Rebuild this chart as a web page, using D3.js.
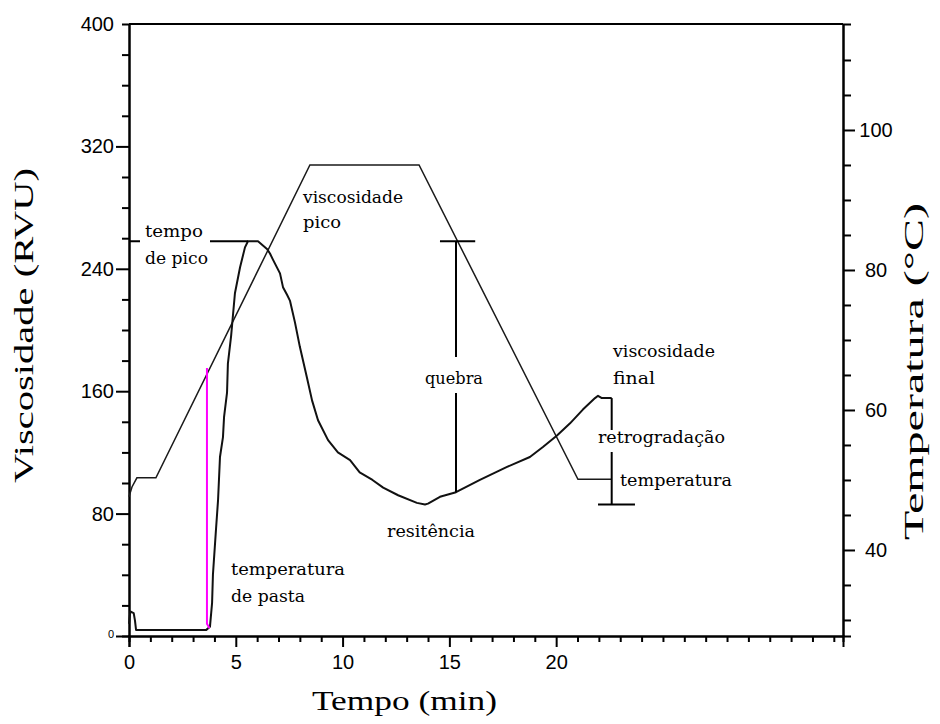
<!DOCTYPE html>
<html>
<head>
<meta charset="utf-8">
<script src="https://cdn.jsdelivr.net/npm/d3@7/dist/d3.min.js"></script>
<style>
  body { margin: 0; background: #fff; }
  svg { display: block; }
</style>
</head>
<body>
<svg id="chart" width="940" height="724"></svg>
<script>
// ---- Data -------------------------------------------------------------
// Tick labels
const timeTicks = [0, 5, 10, 15, 20];
const viscTicks = [0, 80, 160, 240, 320, 400];
const tempTicks = [40, 60, 80, 100];

// Viscosity curve: time (min) and viscosity (RVU)
const viscTime  = [0, 0.06, 0.22, 0.28, 0.33, 3.62, 3.79, 3.89, 3.93, 4.07, 4.17, 4.26, 4.40, 4.45,
                   4.59, 4.63, 4.78, 4.96, 5.20, 5.43, 5.57, 6.04, 6.46, 6.60, 6.74, 7.07, 7.21, 7.40,
                   7.54, 7.77, 8.00, 8.33, 8.57, 8.85, 9.32, 9.78, 10.35, 10.80, 11.40, 11.90, 12.60,
                   13.48, 13.86, 14.00, 14.56, 15.31, 16.43, 17.70, 18.77, 19.38, 20.04, 20.65, 21.25,
                   21.82, 21.96, 22.14, 22.60];
const viscValue = [8, 16, 15, 10, 4, 4, 6, 21.6, 40, 69, 89, 117, 130, 143,
                   159, 178, 196, 224, 241, 254, 258, 258, 253, 250, 246, 237, 228, 223,
                   219, 205, 189, 169, 154, 141, 128, 120, 115, 107, 102, 97, 92,
                   87, 86, 86.5, 91, 94, 102, 110.5, 117, 123.5, 131, 139, 148,
                   155.5, 157, 155.5, 155.5];

// Temperature profile: time (min) and temperature (°C)
const tempTime  = [0, 0.14, 0.37, 1.26, 8.47, 13.58, 21.02, 22.60];
const tempValue = [47.6, 49.0, 50.3, 50.3, 95, 95, 50.1, 50.1];

// Characteristic points of the pasting profile
const peakViscosity   = 258;    // RVU
const peakTime        = 5.57;   // min, start of the peak plateau
const troughViscosity = 86;     // RVU (resistência)
const breakdownTime   = 15.31;  // min, where "quebra" is measured
const breakdownBottom = 94;     // RVU on the curve at breakdownTime
const finalViscosity  = 155.5;  // RVU
const finalTime       = 22.60;  // min
const pastingTime     = 3.65;   // min
const pastingTemp     = 66;     // °C
const pastingVisc     = 5;      // RVU at the onset

// ---- Scales -----------------------------------------------------------
const svg = d3.select("#chart");
const x  = d3.scaleLinear().domain([0, 33.43]).range([129, 843]);
const yV = d3.scaleLinear().domain([0, 400]).range([636, 24]);
const yT = d3.scaleLinear().domain([27.71, 115.14]).range([636, 24]);

const tickFont = "'Liberation Sans', Arial, sans-serif";
const serif = "'Liberation Serif', 'Times New Roman', serif";
const noteFont = "'DejaVu Serif', serif";

// ---- Axes -------------------------------------------------------------
function styleAxis(g) {
  g.selectAll("path, line").attr("stroke", "#000").attr("stroke-width", 2);
  g.selectAll("text").attr("fill", "#000").style("font-family", tickFont).style("font-size", "20px");
}

// minor ticks
const timeMinor = d3.range(1, 34).filter(v => !(v % 5 === 0 && v <= 20));
const viscMinor = d3.range(20, 400, 20).filter(v => v % 80 !== 0);
const tempMinor = d3.range(30, 115, 5).filter(v => v % 20 !== 0);

svg.append("g").attr("transform", "translate(0,636)")
  .call(d3.axisBottom(x).tickValues(timeMinor).tickSize(6).tickFormat(""))
  .call(styleAxis);
svg.append("g").attr("transform", "translate(0,636)")
  .call(d3.axisBottom(x).tickValues(timeTicks).tickSize(11).tickSizeOuter(11).tickPadding(8))
  .call(styleAxis);

svg.append("g").attr("transform", "translate(129,0)")
  .call(d3.axisLeft(yV).tickValues(viscMinor).tickSize(7).tickFormat(""))
  .call(styleAxis);
const leftAxis = svg.append("g").attr("transform", "translate(129,0)")
  .call(d3.axisLeft(yV).tickValues(viscTicks).tickSize(13).tickSizeOuter(0).tickPadding(2))
  .call(styleAxis);
leftAxis.selectAll(".tick").filter(d => d === 400).select("line").remove();
leftAxis.selectAll(".tick").filter(d => d === 0).select("text")
  .style("font-size", "11px").attr("dy", "0.1em");

svg.append("g").attr("transform", "translate(843,0)")
  .call(d3.axisRight(yT).tickValues(tempMinor).tickSize(8).tickFormat(""))
  .call(styleAxis);
svg.append("g").attr("transform", "translate(843,0)")
  .call(d3.axisRight(yT).tickValues(tempTicks).tickSize(12).tickSizeOuter(0))
  .call(styleAxis)
  .selectAll("text").attr("text-anchor", "middle").attr("x", 33);

// top frame line
svg.append("line")
  .attr("x1", x(0)).attr("x2", x.range()[1])
  .attr("y1", yV(400)).attr("y2", yV(400))
  .attr("stroke", "#000").attr("stroke-width", 2);

// ---- Axis titles ------------------------------------------------------
svg.append("text")
  .attr("transform", "translate(33,325.5) rotate(-90)")
  .attr("text-anchor", "middle")
  .attr("textLength", 315).attr("lengthAdjust", "spacingAndGlyphs")
  .style("font-family", serif).style("font-size", "27px")
  .text("Viscosidade (RVU)");
svg.append("text")
  .attr("x", 404.5).attr("y", 710)
  .attr("text-anchor", "middle")
  .attr("textLength", 185).attr("lengthAdjust", "spacingAndGlyphs")
  .style("font-family", serif).style("font-size", "27px")
  .text("Tempo (min)");
svg.append("text")
  .attr("transform", "translate(923,371.5) rotate(-90)")
  .attr("text-anchor", "middle")
  .attr("textLength", 337).attr("lengthAdjust", "spacingAndGlyphs")
  .style("font-family", serif).style("font-size", "27px")
  .text("Temperatura (°C)");

// ---- Curves -----------------------------------------------------------
const viscData = viscTime.map((t, i) => [t, viscValue[i]]);
const tempData = tempTime.map((t, i) => [t, tempValue[i]]);

svg.append("path")
  .datum(tempData)
  .attr("fill", "none").attr("stroke", "#1a1a1a").attr("stroke-width", 1.5)
  .attr("d", d3.line().x(d => x(d[0])).y(d => yT(d[1])));

svg.append("path")
  .datum(viscData)
  .attr("fill", "none").attr("stroke", "#111").attr("stroke-width", 2)
  .attr("stroke-linejoin", "round")
  .attr("d", d3.line().x(d => x(d[0])).y(d => yV(d[1])));

// pasting temperature marker
svg.append("path")
  .attr("fill", "none").attr("stroke", "#ff00ff").attr("stroke-width", 2)
  .attr("d", d3.line()([
    [x(pastingTime), yT(pastingTemp)],
    [x(pastingTime), yV(pastingVisc + 3)],
    [x(pastingTime + 0.12), yV(pastingVisc)]
  ]));

// ---- Annotation lines -------------------------------------------------
const ann = svg.append("g").attr("stroke", "#000").attr("stroke-width", 2).attr("fill", "none");

// peak time: horizontal line from the axis to the peak
ann.append("line")
  .attr("x1", x(0)).attr("x2", x(peakTime))
  .attr("y1", yV(peakViscosity)).attr("y2", yV(peakViscosity));

// breakdown: vertical from peak level down to the curve
ann.append("line")
  .attr("x1", x(breakdownTime)).attr("x2", x(breakdownTime))
  .attr("y1", yV(peakViscosity)).attr("y2", yV(breakdownBottom));
ann.append("line")
  .attr("x1", x(breakdownTime - 0.75)).attr("x2", x(breakdownTime + 0.9))
  .attr("y1", yV(peakViscosity)).attr("y2", yV(peakViscosity));

// setback bracket: final viscosity down to trough level
ann.append("line")
  .attr("x1", x(finalTime)).attr("x2", x(finalTime))
  .attr("y1", yV(finalViscosity)).attr("y2", yV(troughViscosity));
ann.append("line")
  .attr("x1", x(finalTime - 0.64)).attr("x2", x(finalTime + 1.09))
  .attr("y1", yV(troughViscosity)).attr("y2", yV(troughViscosity));

// ---- Annotation labels ------------------------------------------------
const masks = [
  [140, 221, 70, 47],    // tempo de pico
  [418, 357, 72, 36],    // quebra
  [595, 430, 134, 22]    // retrogradação
];
svg.append("g").selectAll("rect").data(masks).join("rect")
  .attr("x", d => d[0]).attr("y", d => d[1])
  .attr("width", d => d[2]).attr("height", d => d[3])
  .attr("fill", "#fff");

const notes = [
  ["tempo", 145, 237, 58],
  ["de pico", 145, 264, 63],
  ["viscosidade", 303, 203, 100],
  ["pico", 303, 228, 38],
  ["quebra", 425, 384, 58],
  ["resitência", 387, 537, 88],
  ["viscosidade", 613, 357, 102],
  ["final", 613, 384, 42],
  ["retrogradação", 598, 443, 127],
  ["temperatura", 620, 486, 112],
  ["temperatura", 231, 575, 114],
  ["de pasta", 231, 602, 74]
];
svg.append("g").selectAll("text").data(notes).join("text")
  .attr("x", d => d[1]).attr("y", d => d[2])
  .attr("textLength", d => d[3]).attr("lengthAdjust", "spacingAndGlyphs")
  .style("font-family", noteFont).style("font-size", "17px")
  .attr("fill", "#000")
  .text(d => d[0]);
</script>
</body>
</html>
